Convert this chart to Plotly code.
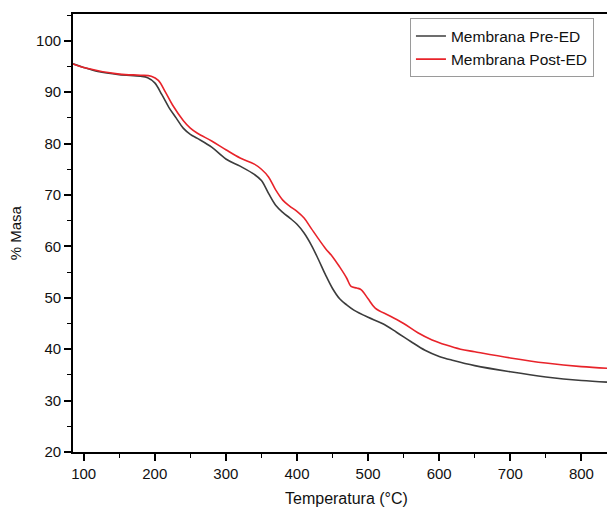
import plotly.graph_objects as go

temp_pre = [85, 100, 120, 150, 180, 190, 200, 210, 220, 230, 240, 250, 260, 280, 300, 320, 340, 350, 360, 370, 380, 390, 400, 410, 420, 430, 440, 450, 460, 470, 480, 500, 520, 540, 560, 580, 600, 620, 650, 700, 750, 800, 836]
mass_pre = [95.5, 94.8, 94.0, 93.4, 93.1, 92.8, 91.8, 89.5, 87.0, 85.0, 83.0, 81.8, 81.0, 79.3, 77.0, 75.6, 74.0, 72.8, 70.3, 68.0, 66.6, 65.5, 64.3, 62.6, 60.3, 57.5, 54.5, 51.8, 49.8, 48.6, 47.6, 46.2, 45.0, 43.3, 41.5, 39.8, 38.6, 37.8, 36.8, 35.6, 34.6, 33.9, 33.6]

temp_post = [85, 100, 150, 180, 195, 205, 215, 225, 240, 250, 260, 280, 300, 320, 340, 350, 360, 370, 380, 390, 400, 410, 420, 430, 440, 450, 460, 470, 476, 484, 490, 500, 510, 530, 550, 570, 590, 610, 630, 650, 700, 750, 800, 836]
mass_post = [95.5, 94.8, 93.5, 93.3, 93.1, 92.3, 90.0, 87.5, 84.5, 83.0, 82.0, 80.5, 78.8, 77.2, 76.0, 75.0, 73.5, 71.0, 69.0, 67.8, 66.8, 65.5, 63.5, 61.5, 59.6, 58.0, 56.0, 53.8, 52.2, 51.9, 51.6, 49.8, 48.0, 46.5, 45.0, 43.2, 41.8, 40.8, 40.0, 39.5, 38.3, 37.3, 36.6, 36.3]

series_names = ["Membrana Pre-ED", "Membrana Post-ED"]
x_title = "Temperatura (°C)"
y_title = "% Masa"

fig = go.Figure()
fig.add_trace(go.Scatter(x=temp_pre, y=mass_pre, mode="lines", name=series_names[0],
                         line=dict(color="#3c3c3c", width=1.6, shape="spline")))
fig.add_trace(go.Scatter(x=temp_post, y=mass_post, mode="lines", name=series_names[1],
                         line=dict(color="#e8232a", width=1.6, shape="spline")))

font = "Liberation Sans, Arial, sans-serif"
fig.update_layout(
    width=607, height=508,
    margin=dict(l=73, r=0, t=14, b=56, autoexpand=False),
    plot_bgcolor="white", paper_bgcolor="white",
    font=dict(family=font, size=15, color="#111111"),
    showlegend=True,
    legend=dict(x=0.631, y=0.99, xanchor="left", yanchor="top",
                bordercolor="#9a9a9a", borderwidth=1, bgcolor="white",
                font=dict(size=15.5), tracegroupgap=0, itemwidth=30),
    xaxis=dict(range=[85, 836], tickmode="array", tickvals=[100, 200, 300, 400, 500, 600, 700, 800],
               ticks="outside", ticklen=7, tickwidth=1.5, tickcolor="black",
               minor=dict(dtick=50, tick0=0, ticks="outside", ticklen=4, tickwidth=1.2, tickcolor="black"),
               showline=True, linecolor="black", linewidth=1.8, mirror=True,
               showgrid=False, zeroline=False, automargin=False),
    yaxis=dict(range=[20, 105.2], tickmode="array", tickvals=[20, 30, 40, 50, 60, 70, 80, 90, 100],
               ticks="outside", ticklen=7, tickwidth=1.5, tickcolor="black",
               minor=dict(dtick=5, tick0=0, ticks="outside", ticklen=4, tickwidth=1.2, tickcolor="black"),
               showline=True, linecolor="black", linewidth=1.8,
               showgrid=False, zeroline=False, automargin=False),
    annotations=[
        dict(text=x_title, xref="paper", yref="paper", x=0.513, y=-0.106, xanchor="center",
             yanchor="middle", showarrow=False, font=dict(size=16)),
        dict(text=y_title, xref="paper", yref="paper", x=-0.108, y=0.5, xanchor="center",
             yanchor="middle", textangle=-90, showarrow=False, font=dict(size=15)),
    ],
)

fig.write_html("out.html", config={"displayModeBar": False},
               post_script="document.body.style.margin='0';document.body.style.overflow='hidden';")
